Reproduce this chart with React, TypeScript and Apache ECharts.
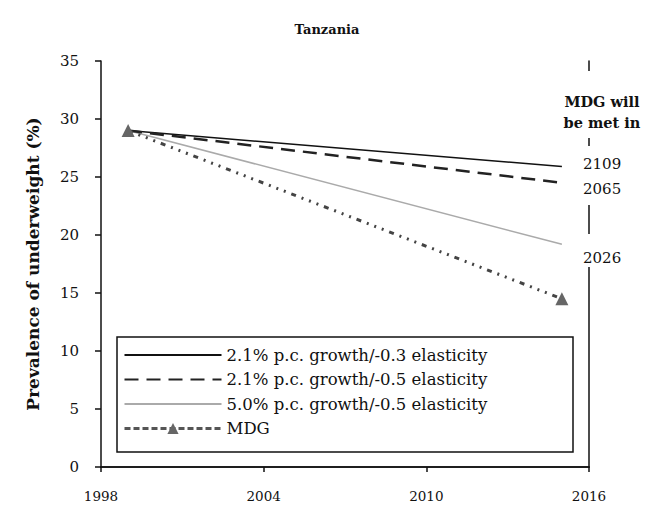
import React, { useEffect, useRef } from "react";
import * as echarts from "echarts";

const years = [1999, 2015];
const growth21e03 = [29, 25.9];
const growth21e05 = [29, 24.5];
const growth50e05 = [29, 19.2];
const mdgPath = [29, 14.5];
const seriesNames = [
  "2.1% p.c. growth/-0.3 elasticity",
  "2.1% p.c. growth/-0.5 elasticity",
  "5.0% p.c. growth/-0.5 elasticity",
  "MDG",
];
const metYears = ["2109", "2065", "2026"];

const FONT = "'DejaVu Serif', 'Liberation Serif', serif";

const pairs = (v: number[]) => years.map((y, i) => [y, v[i]]);

export default function App() {
  const ref = useRef<HTMLDivElement>(null);
  useEffect(() => {
    document.body.style.margin = "0";
    if (!ref.current) return;
    const chart = echarts.init(ref.current, undefined, { renderer: "svg" });
    chart.setOption({
      animation: false,
      backgroundColor: "#fff",
      textStyle: { fontFamily: FONT },
      title: {
        text: "Tanzania",
        left: 322,
        textAlign: "center",
        top: 18,
        textStyle: { fontFamily: FONT, fontSize: 13, fontWeight: "bold", color: "#111" },
      },
      grid: { left: 101, right: 59, top: 61, bottom: 42 },
      xAxis: [
        {
          type: "value",
          min: 1998,
          max: 2016,
          interval: 6,
          splitLine: { show: false },
          axisLine: { lineStyle: { color: "#111", width: 1.5 } },
          axisTick: { show: true, length: 5, lineStyle: { color: "#111", width: 1.5 } },
          axisLabel: { margin: 22, fontFamily: FONT, fontSize: 13.5, color: "#111", formatter: (v: number) => String(v) },
        },
        {
          type: "value",
          position: "top",
          min: 1998,
          max: 2016,
          interval: 6,
          splitLine: { show: false },
          axisLine: { show: true, lineStyle: { color: "#111", width: 1.5 } },
          axisTick: { show: false },
          axisLabel: { show: false },
        },
      ],
      yAxis: [
        {
          type: "value",
          min: 0,
          max: 35,
          interval: 5,
          name: "Prevalence of underweight (%)",
          nameLocation: "middle",
          nameGap: 60,
          nameTextStyle: { fontFamily: FONT, fontSize: 17, fontWeight: "bold", color: "#111" },
          splitLine: { show: false },
          axisLine: { show: true, lineStyle: { color: "#111", width: 1.5 } },
          axisTick: { show: true, length: 6, lineStyle: { color: "#111", width: 1.5 } },
          axisLabel: { margin: 22, fontFamily: FONT, fontSize: 15, color: "#111" },
        },
        {
          type: "value",
          position: "right",
          min: 0,
          max: 35,
          interval: 5,
          splitLine: { show: false },
          axisLine: { show: true, lineStyle: { color: "#111", width: 1.5 } },
          axisTick: { show: false },
          axisLabel: { show: false },
        },
      ],
      legend: {
        orient: "vertical",
        left: 123,
        top: 346,
        padding: 0,
        itemWidth: 97,
        itemHeight: 14,
        itemGap: 6.5,
        data: [
          { name: seriesNames[0], itemStyle: { opacity: 0 } },
          { name: seriesNames[1], itemStyle: { opacity: 0 } },
          { name: seriesNames[2], itemStyle: { opacity: 0 } },
          { name: seriesNames[3], lineStyle: { type: [6, 3], width: 3, color: "#555" } },
        ],
        textStyle: { fontFamily: FONT, fontSize: 16.5, lineHeight: 18, color: "#111" },
      },
      series: [
        {
          name: seriesNames[0],
          type: "line",
          data: pairs(growth21e03),
          symbol: "none",
          lineStyle: { color: "#111", width: 1.5 },
          itemStyle: { color: "#111" },
          z: 3,
        },
        {
          name: seriesNames[1],
          type: "line",
          data: pairs(growth21e05),
          symbol: "none",
          lineStyle: { color: "#222", width: 2.5, type: [14, 8] },
          itemStyle: { color: "#222" },
          z: 3,
        },
        {
          name: seriesNames[2],
          type: "line",
          data: pairs(growth50e05),
          symbol: "none",
          lineStyle: { color: "#aaa", width: 1.5 },
          itemStyle: { color: "#aaa" },
          z: 2,
        },
        {
          name: seriesNames[3],
          type: "line",
          data: pairs(mdgPath),
          symbol: "triangle",
          symbolSize: 13,
          lineStyle: { color: "#444", width: 3, type: [5, 6, 2, 6, 2, 6, 2, 6] },
          itemStyle: { color: "#666" },
          z: 4,
        },
      ],
      graphic: [
        {
          type: "rect",
          shape: { x: 117, y: 337, width: 456, height: 115 },
          style: { fill: "#fff", stroke: "#111", lineWidth: 1.5 },
          z: 0,
          silent: true,
        },
        {
          type: "text",
          x: 602,
          y: 71,
          z: 100,
          style: {
            text: "MDG will\nbe met in",
            align: "center",
            fontFamily: FONT,
            fontSize: 14.5,
            fontWeight: "bold",
            lineHeight: 21,
            fill: "#111",
            backgroundColor: "#fff",
            padding: [20, 2, 5, 2],
          },
        },
        {
          type: "text",
          x: 581,
          y: 146,
          z: 100,
          style: {
            text: metYears[0] + "\n" + metYears[1],
            fontFamily: FONT,
            fontSize: 15,
            lineHeight: 25,
            fill: "#111",
            backgroundColor: "#fff",
            padding: [5, 2, 4, 2],
          },
        },
        {
          type: "text",
          x: 581,
          y: 234,
          z: 100,
          style: {
            text: metYears[2],
            fontFamily: FONT,
            fontSize: 15,
            lineHeight: 18,
            fill: "#111",
            backgroundColor: "#fff",
            padding: [15, 2, 0, 2],
          },
        },
      ],
    });
    return () => chart.dispose();
  }, []);
  return <div ref={ref} style={{ width: 648, height: 509 }} />;
}
